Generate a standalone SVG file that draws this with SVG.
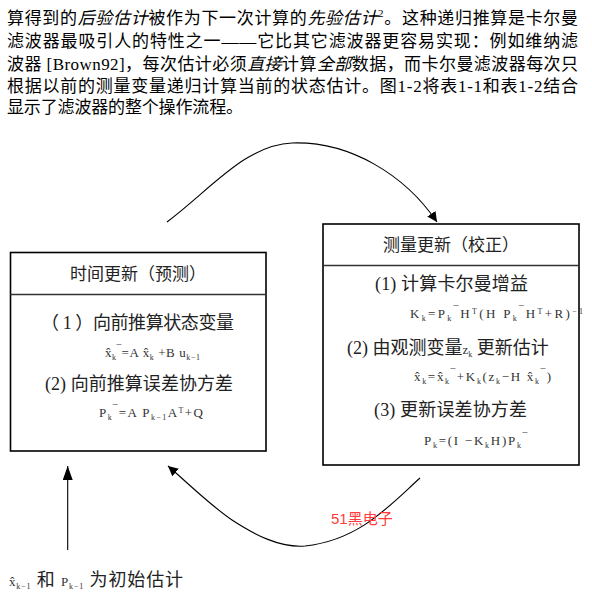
<svg xmlns="http://www.w3.org/2000/svg" width="592" height="599" viewBox="0 0 592 599">
<defs>
<style>
.p{font-family:"Liberation Serif","Noto Sans CJK SC",serif;font-size:17px;fill:#000}
.i{font-style:italic}
.h{font-family:"Liberation Serif","Noto Sans CJK SC",serif;font-size:17px;fill:#222;text-anchor:middle}
.t{font-family:"Liberation Serif","Noto Sans CJK SC",serif;font-size:18px;fill:#222}
.f{font-family:"Liberation Serif","Noto Sans CJK SC",serif;font-size:13px;fill:#333}
.s{font-size:8px}
.box{fill:#fff;stroke:#000;stroke-width:1.6}
.div{stroke:#333;stroke-width:1.6}
.con{fill:none;stroke:#000;stroke-width:1.1}
.wm{font-family:"Liberation Sans","Noto Sans CJK SC",sans-serif;font-size:15px;fill:#ff3b3b}
</style>
<marker id="ah" viewBox="0 0 10 10" refX="10" refY="5" markerWidth="10" markerHeight="10" markerUnits="userSpaceOnUse" orient="auto">
<path d="M0,0 L10,5 L0,10 z" fill="#000"/>
</marker>
<marker id="ah2" viewBox="0 0 10 10" refX="10" refY="5" markerWidth="14" markerHeight="10" markerUnits="userSpaceOnUse" orient="auto" preserveAspectRatio="none">
<path d="M0,0 L10,5 L0,10 z" fill="#000"/>
</marker>
</defs>
<rect width="592" height="599" fill="#fff"/>
<g id="paragraph">
<text class="p" x="7" y="24" textLength="571" lengthAdjust="spacing">算得到的<tspan class="i">后验估计</tspan>被作为下一次计算的<tspan class="i">先验估计</tspan><tspan font-size="11" dy="-7">2</tspan><tspan dy="7">。这种递归推算是卡尔曼</tspan></text>
<text class="p" x="7" y="47" textLength="571" lengthAdjust="spacing">滤波器最吸引人的特性之一——它比其它滤波器更容易实现：例如维纳滤</text>
<text class="p" x="7" y="70" textLength="571" lengthAdjust="spacing">波器 [Brown92]，每次估计必须<tspan class="i">直接</tspan>计算<tspan class="i">全部</tspan>数据，而卡尔曼滤波器每次只</text>
<text class="p" x="7" y="92" textLength="571" lengthAdjust="spacing">根据以前的测量变量递归计算当前的状态估计。图1-2将表1-1和表1-2结合</text>
<text class="p" x="7" y="113" textLength="236" lengthAdjust="spacing">显示了滤波器的整个操作流程。</text>
</g>
<g id="connectors">
<path class="con" d="M167,222 C210,190 245,145 292,143 C350,141 405,175 437,222" marker-end="url(#ah)"/>
<path class="con" d="M420,478 C390,505 360,540 305,546 C280,548 255,535 232,520 C210,505 190,485 168,466" marker-end="url(#ah)"/>
<line class="con" x1="67.7" y1="550" x2="67.7" y2="466" marker-end="url(#ah2)"/>
</g>
<g id="time-update">
<rect class="box" x="10.5" y="252.5" width="255.5" height="198.5"/>
<line class="div" x1="10.5" y1="294.5" x2="266" y2="294.5"/>
<text class="h" x="138" y="280">时间更新（预测）</text>
<text class="t" x="41" y="329" textLength="193" lengthAdjust="spacing">（ 1 ）向前推算状态变量</text>
<text class="f" x="105" y="357" textLength="95" lengthAdjust="spacing">x&#770;<tspan class="s" baseline-shift="-3">k</tspan><tspan baseline-shift="3">‾</tspan>=A x&#770;<tspan class="s" baseline-shift="-3">k</tspan> +B u<tspan class="s" baseline-shift="-3">k−1</tspan></text>
<text class="t" x="45" y="390" textLength="188" lengthAdjust="spacing">(2) 向前推算误差协方差</text>
<text class="f" x="99" y="417" textLength="104" lengthAdjust="spacing">P<tspan class="s" baseline-shift="-3">k</tspan><tspan baseline-shift="3">‾</tspan>=A P<tspan class="s" baseline-shift="-3">k−1</tspan>A<tspan class="s" baseline-shift="4">T</tspan>+Q</text>
</g>
<g id="measurement-update">
<rect class="box" x="323" y="224" width="256" height="241"/>
<line class="div" x1="323" y1="265.5" x2="579" y2="265.5"/>
<text class="h" x="451" y="251">测量更新（校正）</text>
<text class="t" x="375" y="290" textLength="153" lengthAdjust="spacing">(1) 计算卡尔曼增益</text>
<text class="f" x="410" y="318" textLength="173" lengthAdjust="spacing">K<tspan class="s" baseline-shift="-3">k</tspan>=P<tspan class="s" baseline-shift="-3">k</tspan><tspan baseline-shift="3">‾</tspan>H<tspan class="s" baseline-shift="4">T</tspan>(H P<tspan class="s" baseline-shift="-3">k</tspan><tspan baseline-shift="3">‾</tspan>H<tspan class="s" baseline-shift="4">T</tspan>+R)<tspan class="s" baseline-shift="4">−1</tspan></text>
<text class="t" x="347" y="354">(2) 由观测变量<tspan class="f">z<tspan class="s" baseline-shift="-3">k</tspan></tspan> 更新估计</text>
<text class="f" x="414" y="381" textLength="137" lengthAdjust="spacing">x&#770;<tspan class="s" baseline-shift="-3">k</tspan>=x&#770;<tspan class="s" baseline-shift="-3">k</tspan><tspan baseline-shift="3">‾</tspan>+K<tspan class="s" baseline-shift="-3">k</tspan>(z<tspan class="s" baseline-shift="-3">k</tspan>−H x&#770;<tspan class="s" baseline-shift="-3">k</tspan><tspan baseline-shift="3">‾</tspan>)</text>
<text class="t" x="374" y="416" textLength="153" lengthAdjust="spacing">(3) 更新误差协方差</text>
<text class="f" x="424" y="445" textLength="103" lengthAdjust="spacing">P<tspan class="s" baseline-shift="-3">k</tspan>=(I −K<tspan class="s" baseline-shift="-3">k</tspan>H)P<tspan class="s" baseline-shift="-3">k</tspan><tspan baseline-shift="3">‾</tspan></text>
</g>
<g id="initial-estimate">
<text class="t" x="9" y="586" fill="#444" textLength="174" lengthAdjust="spacing"><tspan class="f" font-size="14">x&#770;<tspan class="s" baseline-shift="-3">k−1</tspan></tspan> 和 <tspan class="f" font-size="14">P<tspan class="s" baseline-shift="-3">k−1</tspan></tspan> 为初始估计</text>
</g>
<g id="watermark">
<text class="wm" x="331" y="524">51黑电子</text>
</g>
</svg>
